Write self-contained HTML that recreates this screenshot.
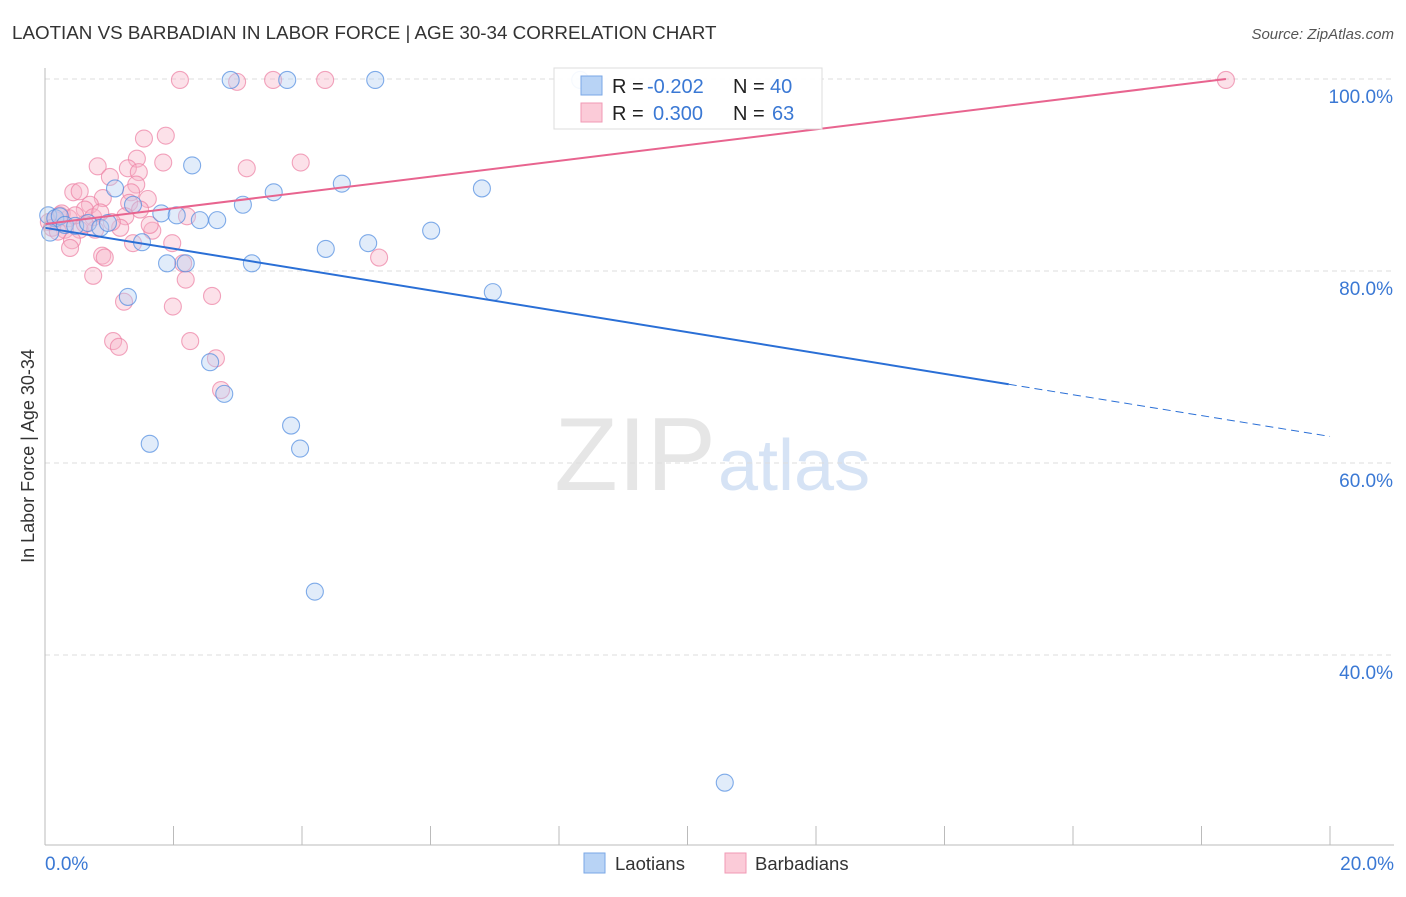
<!DOCTYPE html>
<html><head><meta charset="utf-8"><style>
body{margin:0;background:#fff;font-family:"Liberation Sans",sans-serif}
svg text{font-family:"Liberation Sans",sans-serif}
</style></head><body>
<svg id="c" width="1406" height="892" xmlns="http://www.w3.org/2000/svg">
<text x="12" y="39" font-size="18.8" fill="#333">LAOTIAN VS BARBADIAN IN LABOR FORCE | AGE 30-34 CORRELATION CHART</text>
<text x="1394" y="39" font-size="15" fill="#555" font-style="italic" text-anchor="end">Source: ZipAtlas.com</text>
<text x="716" y="490" font-size="104" fill="#e6e6e6" text-anchor="end" font-family="Liberation Serif">ZIP</text>
<text x="718" y="490" font-size="72" fill="#d6e3f5">atlas</text>
<g id="grid"></g><g id="pts"></g><g id="lines"></g>
<line x1="45" y1="68" x2="45" y2="845" stroke="#bbb"/>
<line x1="45" y1="845" x2="1394" y2="845" stroke="#bbb"/>
<text x="34" y="456" font-size="18" fill="#333" text-anchor="middle" transform="rotate(-90 34 456)">In Labor Force | Age 30-34</text>
<text x="45" y="870" font-size="19" fill="#3a78d4">0.0%</text>
<text x="1394" y="870" font-size="19" fill="#3a78d4" text-anchor="end">20.0%</text>
<g>
<rect x="554" y="68" width="268" height="61" fill="#fff" fill-opacity="0.92" stroke="#ddd"/>
<rect x="581" y="76" width="21" height="19" fill="#b8d3f5" stroke="#7aa7e6"/>
<rect x="581" y="103" width="21" height="19" fill="#fbcbd8" stroke="#f09ab5"/>
<text x="612" y="93" font-size="20" fill="#222">R =</text>
<text x="647" y="93" font-size="20" fill="#3a78d4">-0.202</text>
<text x="733" y="93" font-size="20" fill="#222">N =</text>
<text x="770" y="93" font-size="20" fill="#3a78d4">40</text>
<text x="612" y="120" font-size="20" fill="#222">R =</text>
<text x="653" y="120" font-size="20" fill="#3a78d4">0.300</text>
<text x="733" y="120" font-size="20" fill="#222">N =</text>
<text x="772" y="120" font-size="20" fill="#3a78d4">63</text>
</g>
<g>
<rect x="584" y="853" width="21" height="20" fill="#b8d3f5" stroke="#7aa7e6"/>
<text x="615" y="870" font-size="18.5" fill="#333">Laotians</text>
<rect x="725" y="853" width="21" height="20" fill="#fbcbd8" stroke="#f09ab5"/>
<text x="755" y="870" font-size="18.5" fill="#333">Barbadians</text>
</g>
</svg>
<script>
const yTicks=[100,80,60,40];
const xTickVals=[0,2,4,6,8,10,12,14,16,18,20];
const laoX=[0.05,0.16,0.23,0.08,0.31,0.47,0.67,0.86,0.98,1.09,1.29,1.37,1.51,1.63,1.81,1.90,2.05,2.19,2.29,2.41,2.57,2.68,2.79,2.89,3.08,3.22,3.56,3.77,3.83,3.97,4.20,4.37,4.62,5.03,5.14,6.01,6.80,6.97,8.33,10.58];
const laoY=[85.8,85.5,85.7,84.0,84.8,84.7,85.0,84.5,85.0,88.6,77.3,86.9,83.0,62.0,86.0,80.8,85.8,80.8,91.0,85.3,70.5,85.3,67.2,99.9,86.9,80.8,88.2,99.9,63.9,61.5,46.6,82.3,89.1,82.9,99.9,84.2,88.6,77.8,99.9,26.7];
const barX=[2.10,2.99,3.55,4.36,18.38,1.54,1.88,0.82,1.43,1.84,1.29,1.46,1.01,1.42,0.44,0.54,0.90,1.60,0.70,1.34,1.31,0.62,1.25,2.21,0.75,0.37,0.23,0.16,0.31,0.54,0.78,0.42,1.37,1.98,1.67,0.39,1.17,0.89,0.93,0.75,2.19,2.15,1.23,1.99,2.60,1.06,1.15,2.26,2.66,2.74,3.14,3.98,5.20,0.06,0.11,0.20,0.26,0.62,1.04,0.47,1.48,1.63,0.86];
const barY=[99.9,99.7,99.9,99.9,99.9,93.8,94.1,90.9,91.7,91.3,90.7,90.3,89.8,89.0,88.2,88.3,87.6,87.5,86.9,88.2,87.1,86.4,85.7,85.7,85.6,85.5,85.8,85.3,84.3,84.3,84.3,83.2,82.9,82.9,84.2,82.4,84.5,81.6,81.4,79.5,79.1,80.8,76.8,76.3,77.4,72.7,72.1,72.7,70.9,67.6,90.7,91.3,81.4,85.1,84.5,84.1,86.0,84.9,85.1,85.8,86.4,84.8,86.1];
const laoFit=[84.5,68.2];const barFit=[84.9,100];
const NS='http://www.w3.org/2000/svg';
const X=v=>45+v/20*1285, Y=v=>79+(100-v)*9.6;
const grid=document.getElementById('grid'),pts=document.getElementById('pts'),lines=document.getElementById('lines');
function mk(tag,a,p){const e=document.createElementNS(NS,tag);for(const k in a)e.setAttribute(k,a[k]);p.appendChild(e);return e;}
yTicks.forEach(t=>{
 const l=mk('line',{x1:45,x2:1394,y1:Y(t),y2:Y(t),stroke:'#ddd','stroke-dasharray':'5,4'},grid);
 
 
 const tx=mk('text',{x:1393,y:Y(t)+24,'font-size':19,fill:'#3a78d4','text-anchor':'end'},grid);
 tx.textContent=t.toFixed(1)+'%';
 
 
});
xTickVals.forEach(t=>{
 const l=mk('line',{x1:X(t),x2:X(t),y1:826,y2:845,stroke:'#bbb'},grid);
 
 
});
function dots(xs,ys,fill,stroke,name){xs.forEach((x,i)=>{
 const c=mk('circle',{cx:X(x),cy:Y(ys[i]),r:8.5,fill:fill,'fill-opacity':0.4,stroke:stroke,'stroke-width':1.1,'stroke-opacity':0.7},pts);
 
 
});}
dots(barX,barY,'#f7b3c7','#ec7fa2','point-barbadian');
dots(laoX,laoY,'#b4d0f3','#4d8ae0','point-laotian');
const x1=0,x2=15,x3=20;
const slope=(laoFit[1]-laoFit[0])/x2;
let l1=mk('line',{x1:X(x1),y1:Y(laoFit[0]),x2:X(x2),y2:Y(laoFit[1]),stroke:'#2a6fd6','stroke-width':2},lines);


let l2=mk('line',{x1:X(x2),y1:Y(laoFit[1]),x2:X(x3),y2:Y(laoFit[1]+slope*(x3-x2)),stroke:'#2a6fd6','stroke-width':1,'stroke-dasharray':'8,5'},lines);


let l3=mk('line',{x1:X(0),y1:Y(barFit[0]),x2:X(18.38),y2:Y(barFit[1]),stroke:'#e8648f','stroke-width':2},lines);


</script>
</body></html>
